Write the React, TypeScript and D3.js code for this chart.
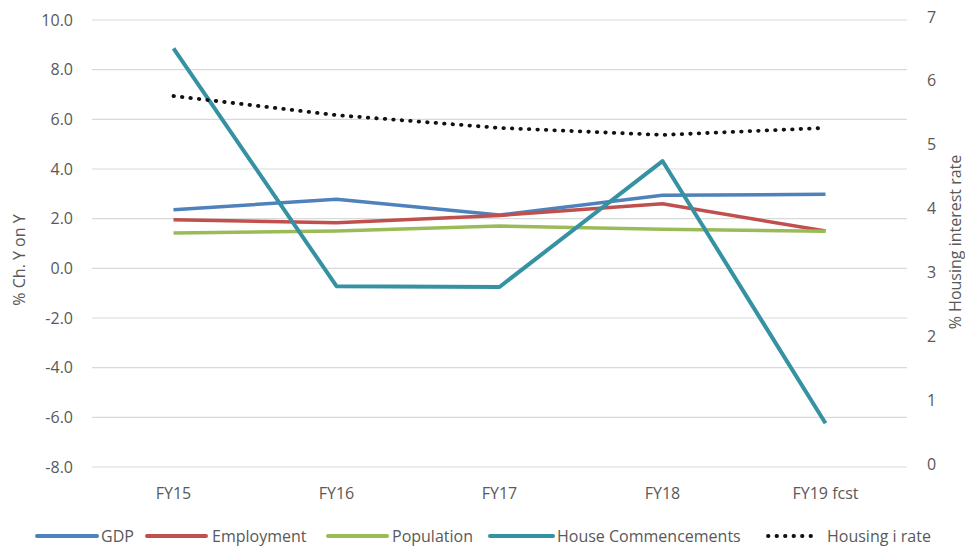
import React from 'react';
import * as d3 from 'd3';

const categories = ['FY15', 'FY16', 'FY17', 'FY18', 'FY19 fcst'];
const gdp = [2.36, 2.78, 2.15, 2.94, 2.98];
const employment = [1.96, 1.84, 2.13, 2.6, 1.5];
const population = [1.42, 1.5, 1.7, 1.57, 1.49];
const houseCommencements = [8.86, -0.72, -0.75, 4.32, -6.24];
const housingRate = [5.81, 5.51, 5.31, 5.2, 5.31];

const leftTicks = [10, 8, 6, 4, 2, 0, -2, -4, -6, -8];
const rightTicks = [0, 1, 2, 3, 4, 5, 6, 7];

const series = [
  { name: 'GDP', values: gdp, color: '#4f81bd', width: 3.5 },
  { name: 'Employment', values: employment, color: '#c0504d', width: 3.5 },
  { name: 'Population', values: population, color: '#9bbb59', width: 3.5 },
  { name: 'House Commencements', values: houseCommencements, color: '#3592a3', width: 4 },
];

const W = 965;
const H = 547;
const margin = { top: 20, right: 58, bottom: 80, left: 92 };
const font = "'Open Sans', sans-serif";
const grey = '#595959';

export default function App() {
  const x = d3.scaleBand<string>().domain(categories).range([margin.left, W - margin.right]);
  const yL = d3.scaleLinear().domain([-8, 10]).range([H - margin.bottom, margin.top]);
  const yR = d3.scaleLinear().domain([0, 7]).range([H - margin.bottom, margin.top]);
  const cx = (c: string) => (x(c) ?? 0) + x.bandwidth() / 2;

  const lineL = d3.line<number>().x((_, i) => cx(categories[i])).y((d) => yL(d));
  const lineR = d3.line<number>().x((_, i) => cx(categories[i])).y((d) => yR(d));

  const legendY = 536;
  const legend = [
    { name: 'GDP', color: '#4f81bd', x1: 37, x2: 97, tx: 101, dotted: false },
    { name: 'Employment', color: '#c0504d', x1: 147, x2: 206, tx: 212, dotted: false },
    { name: 'Population', color: '#9bbb59', x1: 328, x2: 387, tx: 392, dotted: false },
    { name: 'House Commencements', color: '#3592a3', x1: 490, x2: 553, tx: 557, dotted: false },
    { name: 'Housing i rate', color: '#111', x1: 768, x2: 818, tx: 827, dotted: true },
  ];

  return (
    <svg width={W} height={H} style={{ position: 'absolute', left: 0, top: 0, background: '#fff' }}>
      <rect width={W} height={H} fill="#fff" />
      {leftTicks.map((t) => (
        <g key={t}>
          <line x1={margin.left} x2={W - margin.right} y1={yL(t)} y2={yL(t)} stroke="#d9d9d9" strokeWidth={1.2} />
          <text x={73} y={yL(t)} dy="0.35em" textAnchor="end" fontFamily={font} fontSize={16} fill={grey}>
            {t.toFixed(1)}
          </text>
        </g>
      ))}
      {rightTicks.map((t) => (
        <text key={t} x={927} y={yR(t) - 3} dy="0.35em" textAnchor="start" fontFamily={font} fontSize={16} fill={grey}>
          {t}
        </text>
      ))}
      {categories.map((c) => (
        <text key={c} x={cx(c)} y={493} dy="0.35em" textAnchor="middle" fontFamily={font} fontSize={16} fill={grey}>
          {c}
        </text>
      ))}
      <text transform={`translate(19,260) rotate(-90)`} textAnchor="middle" dy="0.35em" fontFamily={font} fontSize={16} fill={grey}>
        % Ch. Y on Y
      </text>
      <text transform={`translate(955,242) rotate(-90)`} textAnchor="middle" dy="0.35em" fontFamily={font} fontSize={16} fill={grey}>
        % Housing interest rate
      </text>
      {series.map((s) => (
        <path key={s.name} d={lineL(s.values) ?? ''} fill="none" stroke={s.color} strokeWidth={s.width} strokeLinejoin="round" />
      ))}
      <path d={lineR(housingRate) ?? ''} fill="none" stroke="#111" strokeWidth={3.8} strokeDasharray="0.5 8" strokeLinecap="round" />
      {legend.map((l) => (
        <g key={l.name}>
          <line
            x1={l.x1}
            x2={l.x2}
            y1={legendY}
            y2={legendY}
            stroke={l.color}
            strokeWidth={l.dotted ? 3.8 : 4}
            strokeDasharray={l.dotted ? '0.5 8' : undefined}
            strokeLinecap="round"
          />
          <text x={l.tx} y={legendY} dy="0.35em" fontFamily={font} fontSize={16} fill={grey}>
            {l.name}
          </text>
        </g>
      ))}
    </svg>
  );
}
